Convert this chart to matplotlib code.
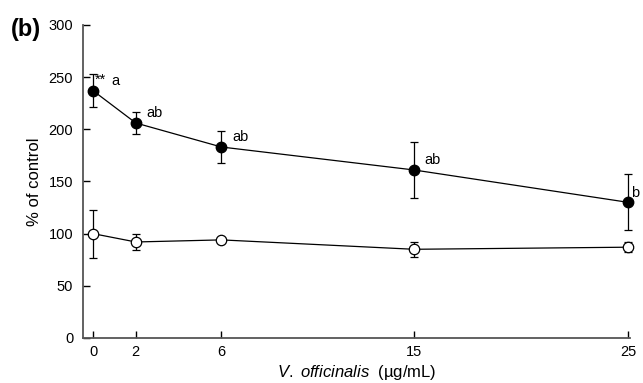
import matplotlib
matplotlib.use("Agg")
import matplotlib.pyplot as plt

plt.rcParams['font.family'] = ['Liberation Sans', 'DejaVu Sans']
plt.rcParams['mathtext.fontset'] = 'custom'
plt.rcParams['mathtext.it'] = 'Liberation Sans:italic'
plt.rcParams['mathtext.rm'] = 'Liberation Sans'

conc = [0, 2, 6, 15, 25]
treated = [237, 206, 183, 161, 130]
treated_err = [16, 11, 15, 27, 27]
control = [100, 92, 94, 85, 87]
control_err = [23, 8, 2, 7, 5]
labels = ['a', 'ab', 'ab', 'ab', 'b']
yticks = [0, 50, 100, 150, 200, 250, 300]

fig = plt.figure(figsize=(6.43, 3.83), dpi=100)
ax = fig.add_axes([0.129, 0.1175, 0.851, 0.8175])

common = dict(fmt='o-', color='black', ms=7.5, lw=0.9, elinewidth=0.9,
              capsize=2.7, capthick=0.9, clip_on=False, zorder=3)
ax.errorbar(conc, treated, yerr=treated_err, mfc='black', **common)
ax.errorbar(conc, control, yerr=control_err, mfc='white', mew=0.9, **common)

x_offsets = [13, 7.5, 8, 7.5, 2]
for x, y, t, dx in zip(conc, treated, labels, x_offsets):
    ax.annotate(t, (x, y), xytext=(dx, 7), textcoords='offset points',
                fontsize=10.5, ha='left', va='center', annotation_clip=False)
ax.annotate('**', (conc[0], treated[0]), xytext=(1.5, 7.5),
            textcoords='offset points', fontsize=10.5, ha='left', va='center')

ax.set_xlim(-0.47, 25.1)
ax.set_ylim(0, 300)
ax.set_xticks(conc)
ax.set_yticks(yticks)
ax.tick_params(direction='in', length=5, width=1, colors='black', labelsize=10.5)
ax.tick_params(axis='y', pad=7)
ax.tick_params(axis='x', pad=5)
for s in ['top', 'right']:
    ax.spines[s].set_visible(False)
for s in ['left', 'bottom']:
    ax.spines[s].set_color('#555555')
    ax.spines[s].set_linewidth(1.3)

ax.set_ylabel('% of control', fontsize=12, labelpad=5)
ax.set_xlabel(r'$\it{V.\ officinalis}$  (µg/mL)', fontsize=12, labelpad=3)
fig.text(0.017, 0.922, '(b)', fontsize=17, fontweight='bold', ha='left', va='center')

fig.savefig('out.png', dpi=100)
